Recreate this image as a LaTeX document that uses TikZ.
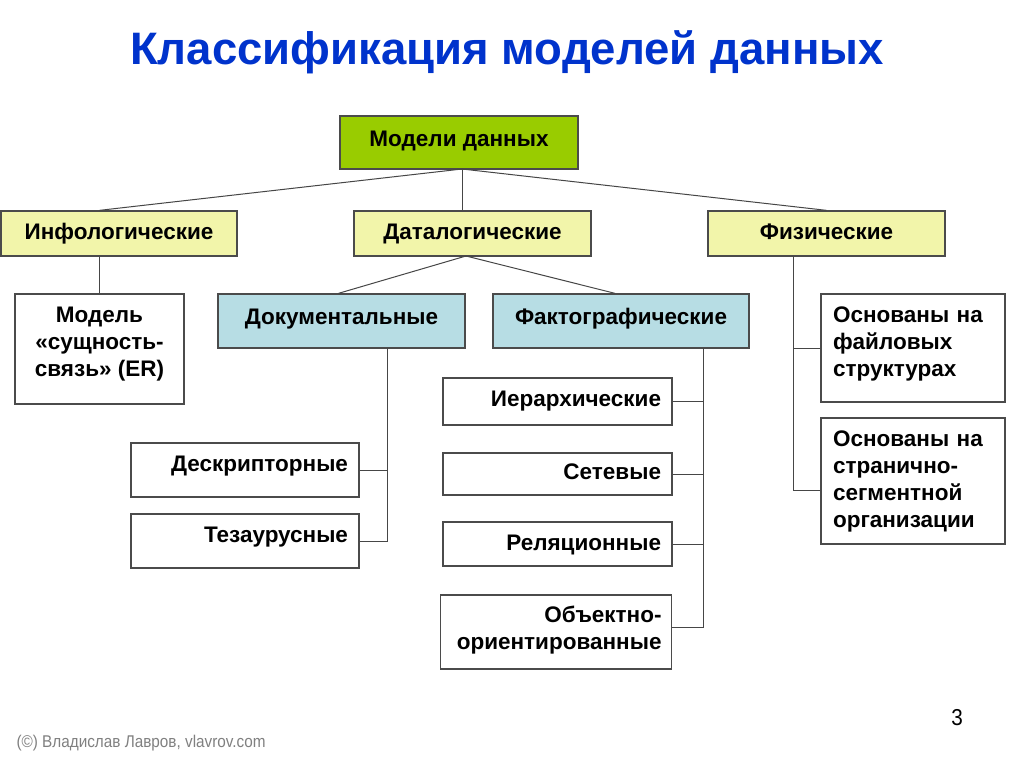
\documentclass[tikz,border=0pt]{standalone}
\usepackage{fontspec}
\setmainfont{Liberation Sans}
\newfontfamily\narrowfont[FakeStretch=0.9]{Liberation Sans}
\usepackage{xcolor}
\definecolor{titleblue}{RGB}{0,51,204}
\definecolor{rootgreen}{RGB}{153,204,0}
\definecolor{levelyellow}{RGB}{242,245,170}
\definecolor{levelblue}{RGB}{183,221,228}
\definecolor{boxline}{RGB}{75,75,75}
\definecolor{linkgrey}{RGB}{70,70,70}

\begin{document}
\begin{tikzpicture}[x=1pt, y=-1pt,
    box/.style={draw=boxline, line width=1.3pt, inner sep=0pt,
        font=\fontsize{22.5}{27}\selectfont\bfseries},
    single/.style={box, text height=16.5pt, text depth=4.7pt},
    link/.style={draw=linkgrey, line width=1pt}]
    % page frame
    \useasboundingbox[fill=white] (0,0) rectangle (1024,768);
    \node[font=\fontsize{45.5}{50}\selectfont\bfseries, text=titleblue] (title) at (507,52) {Классификация моделей данных};

    % root and first level
    \node[single, fill=rootgreen, minimum width=238pt, minimum height=53pt, text depth=9pt] (root) at (459,142.5) {Модели данных};
    \node[single, fill=levelyellow, minimum width=236pt, minimum height=45pt] (info) at (119,233.5) {Инфологические};
    \node[single, fill=levelyellow, minimum width=237pt, minimum height=45pt] (data) at (472.5,233.5) {Даталогические};
    \node[single, fill=levelyellow, minimum width=237pt, minimum height=45pt] (phys) at (826.5,233.5) {Физические};

    % second level
    \node[box, fill=white, minimum width=169pt, minimum height=110pt, align=center, text depth=15pt] (er) at (99.5,349) {Модель\\«сущность-\\связь» (ER)};
    \node[single, fill=levelblue, minimum width=247pt, minimum height=54pt, text depth=9pt] (doc) at (341.5,321) {Документальные};
    \node[single, fill=levelblue, minimum width=256pt, minimum height=54pt, text depth=9pt] (fact) at (621,321) {Фактографические};

    % documentary models
    \node[single, fill=white, minimum width=228pt, minimum height=54pt, text width=206pt, align=right, text depth=13pt] (descr) at (245,470) {Дескрипторные};
    \node[single, fill=white, minimum width=228pt, minimum height=54pt, text width=206pt, align=right, text depth=13pt] (thes) at (245,541) {Тезаурусные};

    % factographic models
    \node[single, fill=white, minimum width=229pt, minimum height=47pt, text width=207pt, align=right, text depth=7pt] (hier) at (557.5,401.5) {Иерархические};
    \node[single, fill=white, minimum width=229pt, minimum height=42pt, text width=207pt, align=right] (net) at (557.5,474) {Сетевые};
    \node[single, fill=white, minimum width=229pt, minimum height=44pt, text width=207pt, align=right, text depth=3pt] (rel) at (557.5,544) {Реляционные};
    \node[box, fill=white, minimum width=231pt, minimum height=74pt, text width=211pt, align=right, text depth=35pt] (oop) at (556,632) {Объектно-\\ориентированные};

    % physical models
    \node[box, fill=white, minimum width=184pt, minimum height=108pt, text width=160pt, align=left, text depth=66.7pt] (file) at (913,348) {Основаны на\\файловых\\структурах};
    \node[box, fill=white, minimum width=184pt, minimum height=126pt, text width=160pt, align=left] (page) at (913,481) {Основаны на\\странично-\\сегментной\\организации};

    % connectors
    \coordinate (rootfoot) at (462,169);
    \coordinate (datafoot) at (466,256);
    \coordinate (docbus) at (387,348);
    \coordinate (factbus) at (703,348);
    \coordinate (physbus) at (793,256);
    \draw[link] (rootfoot) -- (info.north -| er.north);
    \draw[link] (rootfoot) -- (data.north -| rootfoot);
    \draw[link] (rootfoot) -- (phys.north);
    \draw[link] (info.south -| er.north) -- (er.north);
    \draw[link] (datafoot) -- ([xshift=-3pt]doc.north);
    \draw[link] (datafoot) -- ([xshift=-6pt]fact.north);
    \foreach \n in {descr,thes}
        \draw[link] (docbus) |- (\n.east);
    \foreach \n in {hier,net,rel}
        \draw[link] (factbus) |- (\n.east);
    \draw[link] (factbus) |- ([yshift=5pt]oop.east);
    \draw[link] (physbus) |- (file.west);
    \draw[link] (physbus) |- ([yshift=-9pt]page.west);

    % footer
    \node[font=\narrowfont\fontsize{23}{26}\selectfont] (pagenum) at (957,718) {3};
    \node[font=\narrowfont\fontsize{17}{20}\selectfont, text=gray, anchor=west] (credit) at (13,743) {(©) Владислав Лавров, vlavrov.com};
\end{tikzpicture}
\end{document}
